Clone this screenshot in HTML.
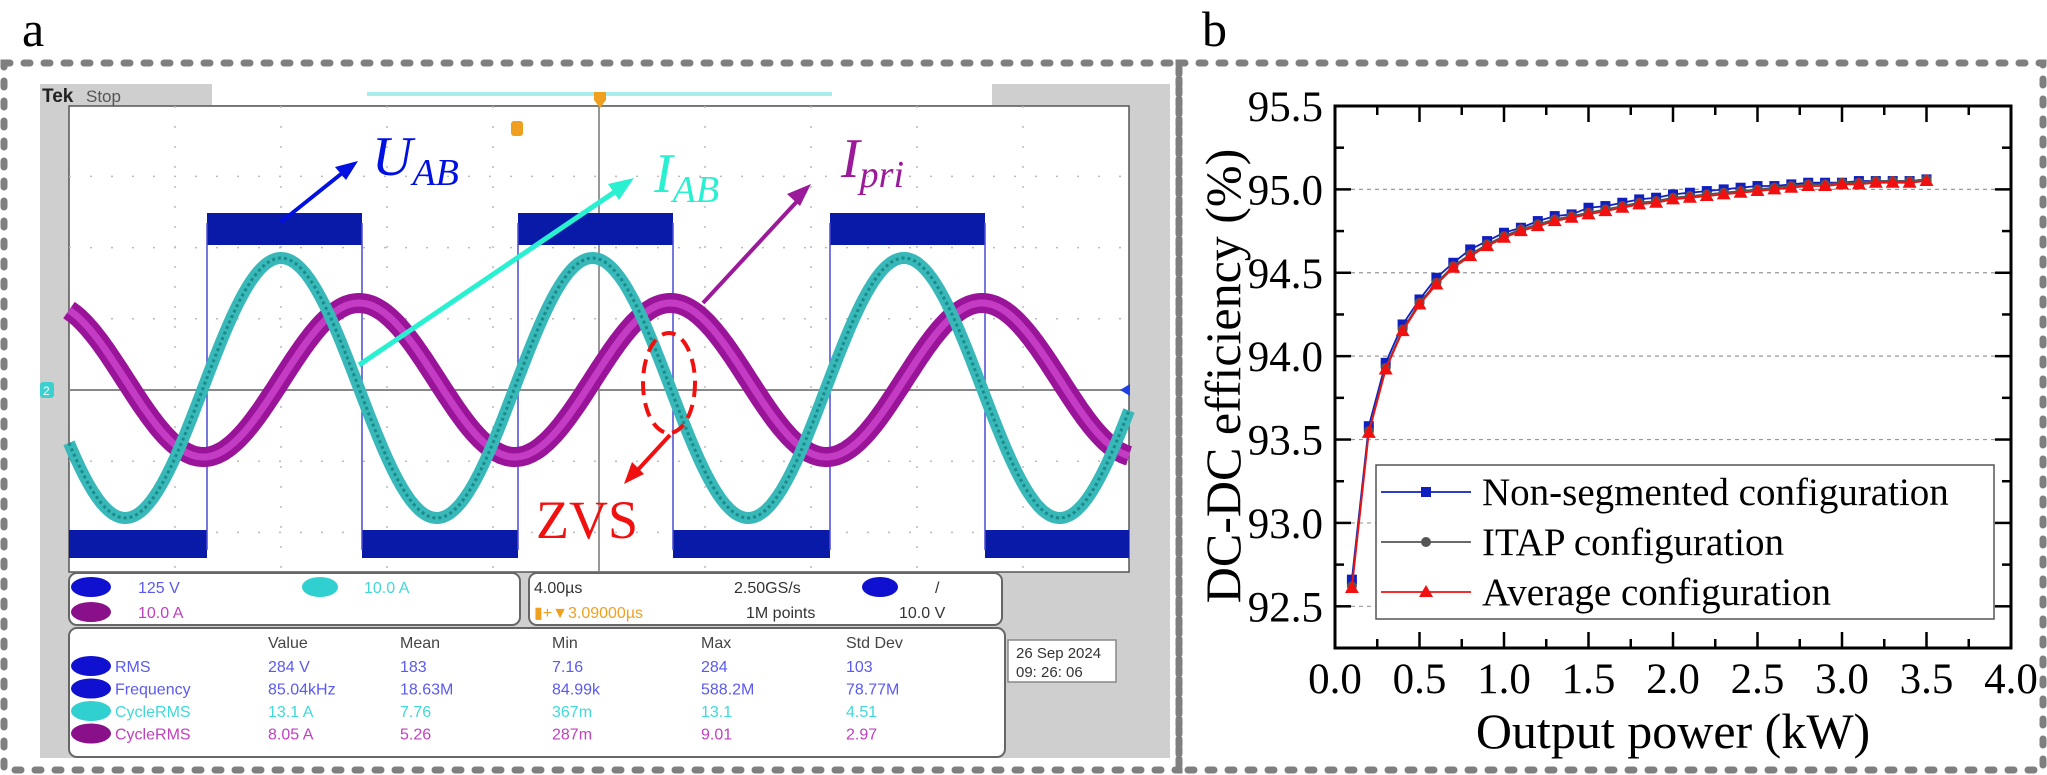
<!DOCTYPE html>
<html><head><meta charset="utf-8"><style>
html,body{margin:0;padding:0;background:#fff;}
svg{display:block;}
.tm{font-family:"Liberation Serif",serif;}
.sc{font-family:"Liberation Sans",sans-serif;font-size:16px;}
</style></head><body>
<svg id="root" width="2047" height="775" viewBox="0 0 2047 775" xmlns="http://www.w3.org/2000/svg">
<!-- panel labels -->
<text x="22" y="46" class="tm" font-size="50">a</text>
<text x="1202" y="46" class="tm" font-size="50">b</text>
<!-- dashed borders -->
<rect x="4" y="63" width="1175" height="707" fill="none" stroke="#7f7f7f" stroke-width="7" stroke-dasharray="6 14" stroke-linecap="round"/>
<rect x="1179" y="63" width="864" height="707" fill="none" stroke="#7f7f7f" stroke-width="7" stroke-dasharray="6 14" stroke-linecap="round"/>

<!-- ============ Oscilloscope panel ============ -->
<g id="scope">
  <rect x="40" y="84" width="1130" height="674" fill="#cfcfcf"/>
  <rect x="212" y="84" width="780" height="21" fill="#fff"/>
  <line x1="367" y1="94" x2="832" y2="94" stroke="#a8ecec" stroke-width="4"/>
  <text x="42" y="102" font-family="Liberation Sans,sans-serif" font-size="19" font-weight="bold" fill="#222">Tek</text>
  <text x="86" y="102" font-family="Liberation Sans,sans-serif" font-size="17" fill="#555">Stop</text>
  <rect x="69" y="106" width="1060" height="466" fill="#fff" stroke="#555" stroke-width="1.5"/>
  <g id="grat"></g>
  <g id="waves"></g>
  <!-- markers -->
  <path d="M594 92 h12 v8 l-6 8 l-6 -8z" fill="#f0a020"/>
  <rect x="511" y="121" width="12" height="15" rx="3" fill="#f0a020"/>
  <rect x="40" y="382" width="14" height="16" rx="3" fill="#3cd0d0"/>
  <text x="43" y="395" font-size="12" fill="#fff" font-family="Liberation Sans,sans-serif">2</text>
  <path d="M1120 390 l10 -6 v12z" fill="#2040e0"/>
  <!-- annotations -->
  <line x1="281" y1="222" x2="346" y2="170" stroke="#0010e0" stroke-width="4"/>
  <path d="M358 161 l-23 6 l11 13z" fill="#0010e0"/>
  <text x="372" y="175" class="tm" font-size="56" font-style="italic" fill="#0010e0">U<tspan font-size="38" dy="10">AB</tspan></text>
  <line x1="359" y1="365" x2="622" y2="187" stroke="#28f0d0" stroke-width="5"/>
  <path d="M634 178 l-26 6 l11 16z" fill="#28f0d0"/>
  <text x="654" y="192" class="tm" font-size="56" font-style="italic" fill="#28f0d0">I<tspan font-size="38" dy="10">AB</tspan></text>
  <line x1="703" y1="303" x2="802" y2="196" stroke="#9a1a9a" stroke-width="4"/>
  <path d="M811 184 l-24 10 l13 12z" fill="#9a1a9a"/>
  <text x="841" y="177" class="tm" font-size="56" font-style="italic" fill="#9a1a9a">I<tspan font-size="38" dy="10">pri</tspan></text>
  <ellipse cx="669" cy="383" rx="26" ry="50" fill="none" stroke="#f01010" stroke-width="4" stroke-dasharray="14 8"/>
  <line x1="670" y1="435" x2="634" y2="474" stroke="#f01010" stroke-width="4"/>
  <path d="M624 484 l8 -22 l12 12z" fill="#f01010"/>
  <text x="536" y="538" class="tm" font-size="54" fill="#f01010">ZVS</text>
  <!-- info panels -->
  <rect x="69" y="573" width="451" height="52" rx="8" fill="#fff" stroke="#666" stroke-width="2"/>
  <rect x="529" y="573" width="473" height="52" rx="8" fill="#fff" stroke="#666" stroke-width="2"/>
  <rect x="69" y="628" width="936" height="129" rx="8" fill="#fff" stroke="#666" stroke-width="2"/>
  <rect x="1008" y="640" width="108" height="42" fill="#fff" stroke="#888" stroke-width="1.5"/>
  <g class="sc">
    <ellipse cx="91" cy="587" rx="20" ry="10" fill="#1010d0"/>
    <text x="138" y="593" fill="#5a5af0">125 V</text>
    <ellipse cx="91" cy="612" rx="20" ry="10" fill="#8a108a"/>
    <text x="138" y="618" fill="#c040c0">10.0 A</text>
    <ellipse cx="320" cy="587" rx="18" ry="10" fill="#30d0d0"/>
    <text x="364" y="593" fill="#40d8d8">10.0 A</text>
    <text x="534" y="593" fill="#333">4.00µs</text>
    <text x="734" y="593" fill="#333">2.50GS/s</text>
    <ellipse cx="880" cy="587" rx="18" ry="10" fill="#1010d0"/>
    <text x="935" y="593" fill="#333">/</text>
    <text x="534" y="618" fill="#f0a020">▮+▼3.09000µs</text>
    <text x="746" y="618" fill="#333">1M points</text>
    <text x="899" y="618" fill="#333">10.0 V</text>
    <text x="1016" y="658" font-size="15" fill="#333">26 Sep   2024</text>
    <text x="1016" y="677" font-size="15" fill="#333">09: 26: 06</text>
  </g>
  <g id="meas" class="sc"></g>
</g>

<!-- ============ Efficiency chart ============ -->
<g id="chart"></g>
</svg>
<script>
const NS='http://www.w3.org/2000/svg';
function mk(tag,attrs,parent,txt){const e=document.createElementNS(NS,tag);for(const k in attrs)e.setAttribute(k,attrs[k]);if(txt!==undefined)e.textContent=txt;parent.appendChild(e);return e;}

/* ---- scope graticule ---- */
const grat=document.getElementById('grat');
const gx0=69,gx1=1129,gy0=106,gy1=572,divX=106,divY=71.2,cy0=390;
for(let i=1;i<10;i++){const x=gx0+i*divX;
  const l=mk('line',{x1:x,y1:gy0,x2:x,y2:gy1,stroke:i==5?'#777':'#bbb','stroke-width':i==5?1.5:1.5,'stroke-dasharray':i==5?'':'2 18'},grat);
  
  }
for(let j=-4;j<=3;j++){const y=cy0+j*divY;if(y<=gy0||y>=gy1)continue;
  const l=mk('line',{x1:gx0,y1:y,x2:gx1,y2:y,stroke:j==0?'#888':'#bbb','stroke-width':j==0?2:1.5,'stroke-dasharray':j==0?'':'2 19'},grat);
  
  }

/* ---- waveforms ---- */
const risingEdges=[207,518,830];
const fallingEdges=[362,673,985];
const highBand=[213,245];
const lowBand=[530,558];
const cyanWave=[281,388,130];   // peak x, center y, amplitude (px)
const magentaWave=[359,380,77];
const period=311.5;
const waves=document.getElementById('waves');
function sinePath(p){let d='';for(let x=gx0;x<=gx1;x+=2){const y=p[1]-p[2]*Math.cos(2*Math.PI*(x-p[0])/period);d+=(d?'L':'M')+x+' '+y.toFixed(1);}return d;}
// blue square wave
let lowStarts=[gx0].concat(fallingEdges), lowEnds=risingEdges.concat([gx1]);
for(let i=0;i<lowStarts.length;i++){
  const r=mk('rect',{x:lowStarts[i],y:lowBand[0],width:lowEnds[i]-lowStarts[i],height:lowBand[1]-lowBand[0],fill:'#0a1aa8'},waves);
  
  }
for(let i=0;i<risingEdges.length;i++){
  const r=mk('rect',{x:risingEdges[i],y:highBand[0],width:fallingEdges[i]-risingEdges[i],height:highBand[1]-highBand[0],fill:'#0a1aa8'},waves);
  
  
  [risingEdges[i],fallingEdges[i]].forEach(x=>{const l=mk('line',{x1:x,y1:highBand[0]+10,x2:x,y2:lowBand[1]-8,stroke:'#4a4ad0','stroke-width':1.5},waves);
    
    });}
const m1=mk('path',{d:sinePath(magentaWave),fill:'none',stroke:'#9a149a','stroke-width':20},waves);


const m2=mk('path',{d:sinePath(magentaWave),fill:'none',stroke:'#c43cc4','stroke-width':7},waves);


const c1=mk('path',{d:sinePath(cyanWave),fill:'none',stroke:'#38b8b8','stroke-width':12},waves);


const c2=mk('path',{d:sinePath(cyanWave),fill:'none',stroke:'#1a8a8a','stroke-width':3,'stroke-dasharray':'3 3'},waves);



/* ---- measurement table ---- */
const measHeaders=['Value','Mean','Min','Max','Std Dev'];
const measLabels=['RMS','Frequency','CycleRMS','CycleRMS'];
const measRows=[['284 V','183','7.16','284','103'],['85.04kHz','18.63M','84.99k','588.2M','78.77M'],['13.1 A','7.76','367m','13.1','4.51'],['8.05 A','5.26','287m','9.01','2.97']];
const measCh=['1','1','2','3'];
const measColors=['#5a5af0','#5a5af0','#40d8d8','#c040c0'];
const badgeColors=['#1010d0','#1010d0','#30d0d0','#8a108a'];
const colX=[268,400,552,701,846];
const meas=document.getElementById('meas');
measHeaders.forEach((h,i)=>{const t=mk('text',{x:colX[i],y:648,fill:'#444'},meas,h);
  
  });
measRows.forEach((row,r)=>{const y=672+r*22.5;
  const b=mk('ellipse',{cx:91,cy:y-6,rx:20,ry:10,fill:badgeColors[r]},meas);
  
  
  const lb=mk('text',{x:115,y:y,fill:measColors[r]},meas,measLabels[r]);
  
  
  row.forEach((v,i)=>{const t=mk('text',{x:colX[i],y:y,fill:measColors[r]},meas,v);
    
    });});

/* ---- efficiency chart ---- */
const power=[0.1,0.2,0.3,0.4,0.5,0.6,0.7,0.8,0.9,1.0,1.1,1.2,1.3,1.4,1.5,1.6,1.7,1.8,1.9,2.0,2.1,2.2,2.3,2.4,2.5,2.6,2.7,2.8,2.9,3.0,3.1,3.2,3.3,3.4,3.5];
const nonSegmented=[92.66,93.58,93.96,94.19,94.34,94.47,94.56,94.64,94.69,94.74,94.77,94.81,94.84,94.85,94.89,94.90,94.92,94.94,94.95,94.97,94.98,94.99,95.00,95.01,95.02,95.02,95.03,95.04,95.04,95.04,95.05,95.05,95.05,95.05,95.06];
const itap=[92.62,93.55,93.93,94.16,94.32,94.44,94.54,94.61,94.67,94.72,94.76,94.79,94.82,94.84,94.86,94.88,94.90,94.92,94.93,94.95,94.96,94.97,94.98,94.99,95.00,95.01,95.02,95.03,95.03,95.04,95.04,95.05,95.05,95.05,95.06];
const average=[92.61,93.54,93.92,94.15,94.31,94.43,94.53,94.60,94.66,94.71,94.75,94.78,94.81,94.83,94.85,94.87,94.89,94.91,94.92,94.94,94.95,94.96,94.97,94.98,94.99,95.00,95.01,95.02,95.02,95.03,95.03,95.04,95.04,95.04,95.05];
const xTicks=['0.0','0.5','1.0','1.5','2.0','2.5','3.0','3.5','4.0'];
const yTicks=['92.5','93.0','93.5','94.0','94.5','95.0','95.5'];
const seriesNames=['Non-segmented configuration','ITAP configuration','Average configuration'];

const PL=1335,PR=2011,PT=106,PB=648,XMIN=0,XMAX=4,YMIN=92.25,YMAX=95.5;
const sx=v=>PL+(v-XMIN)/(XMAX-XMIN)*(PR-PL);
const sy=v=>PB-(v-YMIN)/(YMAX-YMIN)*(PB-PT);
const ch=document.getElementById('chart');
// grid
yTicks.forEach(t=>{const v=parseFloat(t);if(v>=95.5)return;
  const g=mk('line',{x1:PL,y1:sy(v),x2:PR,y2:sy(v),stroke:'#999','stroke-width':1.2,'stroke-dasharray':'4 4'},ch);
  
  });
// frame
const fr=mk('rect',{x:PL,y:PT,width:PR-PL,height:PB-PT,fill:'none',stroke:'#000','stroke-width':3},ch);


// ticks
for(let v=YMIN;v<=YMAX+1e-9;v+=0.25){const major=Math.abs((v*2)%1)<1e-6;const L=major?16:9;
  [[PL,PL+L],[PR,PR-L]].forEach(p=>{const t=mk('line',{x1:p[0],y1:sy(v),x2:p[1],y2:sy(v),stroke:'#000','stroke-width':2.5},ch);
    
    });}
for(let v=XMIN;v<=XMAX+1e-9;v+=0.25){const major=Math.abs((v*2)%1)<1e-6;const L=major?16:9;
  [[PB,PB-L],[PT,PT+L]].forEach(p=>{const t=mk('line',{x1:sx(v),y1:p[0],x2:sx(v),y2:p[1],stroke:'#000','stroke-width':2.5},ch);
    
    });}
yTicks.forEach(t=>{const e=mk('text',{x:PL-12,y:sy(parseFloat(t))+15,'text-anchor':'end','font-size':43,class:'tm'},ch,t);
  
  });
xTicks.forEach(t=>{const e=mk('text',{x:sx(parseFloat(t)),y:693,'text-anchor':'middle','font-size':43,class:'tm'},ch,t);
  
  });
const xt=mk('text',{x:1673,y:748,'text-anchor':'middle','font-size':50,class:'tm'},ch,'Output power (kW)');


const yt=mk('text',{x:0,y:0,'text-anchor':'middle','font-size':50,class:'tm',transform:'translate(1240,376) rotate(-90)'},ch,'DC-DC efficiency (%)');


// series
function marker(kind,x,y,color,parent){let e;
  if(kind==='sq')e=mk('rect',{x:x-5,y:y-5,width:10,height:10,fill:color},parent);
  else if(kind==='ci')e=mk('circle',{cx:x,cy:y,r:5,fill:color},parent);
  else e=mk('path',{d:`M${x} ${y-7}L${x+7} ${y+5}L${x-7} ${y+5}Z`,fill:color},parent);
  return e;}
const series=[[nonSegmented,'#1020c0','sq','series-non-segmented'],[itap,'#555','ci','series-itap'],[average,'#f01010','tr','series-average']];
series.forEach(s=>{const g=mk('g',{},ch);
  
  
  const pts=power.map((p,i)=>sx(p).toFixed(1)+','+sy(s[0][i]).toFixed(1)).join(' ');
  const pl=mk('polyline',{points:pts,fill:'none',stroke:s[1],'stroke-width':1.8},g);
  
  
  power.forEach((p,i)=>{const m=marker(s[2],sx(p),sy(s[0][i]),s[1],g);
    
    });});
// legend
const lg=mk('g',{},ch);


const lb=mk('rect',{x:1376,y:465,width:618,height:154,fill:'#fff',stroke:'#555','stroke-width':1.5},lg);


series.forEach((s,i)=>{const y=492+i*50;
  const ge=mk('g',{},lg);
  
  
  mk('line',{x1:1381,y1:y,x2:1471,y2:y,stroke:s[1],'stroke-width':1.8},ge);
  marker(s[2],1426,y,s[1],ge);
  mk('text',{x:1482,y:y+13,'font-size':39,class:'tm'},ge,seriesNames[i]);});
</script>
</body></html>
